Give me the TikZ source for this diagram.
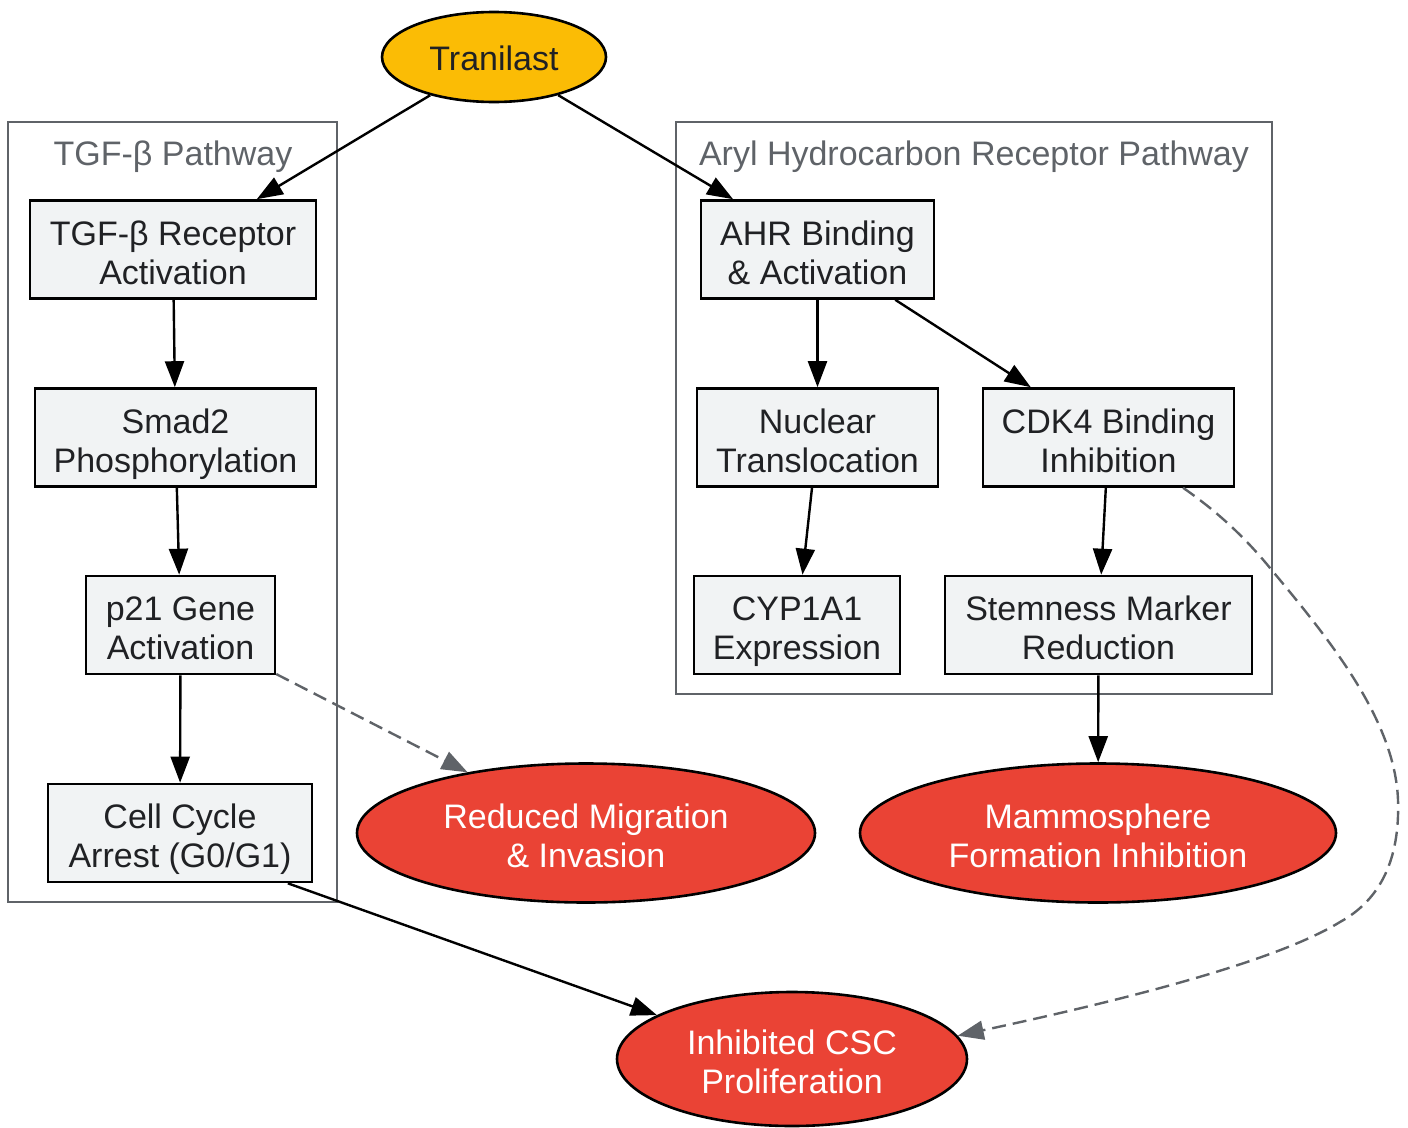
\documentclass[tikz,border=0pt]{standalone}
\usepackage{fontspec}
\setmainfont{Liberation Sans}
\usetikzlibrary{arrows.meta,shapes.geometric}
\definecolor{boxfill}{HTML}{F1F3F4}
\definecolor{txt}{HTML}{202124}
\definecolor{grayc}{HTML}{5F6368}
\definecolor{redc}{HTML}{EA4335}
\definecolor{yel}{HTML}{FBBC05}
\newcommand{\twoln}[2]{\smash{#1}\rule{0pt}{30pt}\\\smash{#2}}
\tikzset{
  box/.style={draw=black, line width=2.6pt, fill=boxfill, text=txt, align=center, inner sep=0pt, minimum height=98pt},
  oval/.style={ellipse, draw=black, line width=2.6pt, fill=redc, text=white, align=center, inner sep=0pt},
  cluster/.style={draw=grayc, line width=2.2pt, inner sep=0pt},
  clabel/.style={text=grayc, anchor=base, inner sep=0pt},
  edge/.style={line width=2.4pt, draw=black, -{Triangle[length=26pt,width=19pt]}},
  dashedge/.style={line width=2.4pt, draw=grayc, dash pattern=on 14pt off 7pt, -{Triangle[length=26pt,width=19pt]}}
}
\begin{document}
\begin{tikzpicture}[x=1pt,y=-1pt, font=\fontsize{34}{39}\selectfont]
\useasboundingbox (0,0) rectangle (1408,1127);
% clusters
\node[cluster, minimum width=329pt, minimum height=780pt] (tgfc) at (172.5,512) {};
\node[cluster, minimum width=596pt, minimum height=572pt] (ahrc) at (974,408) {};
\node[clabel] (tgfl) at (173,165) {TGF-β Pathway};
\node[clabel] (ahrl) at (974,165) {Aryl Hydrocarbon Receptor Pathway};
% nodes
\node[ellipse, draw=black, line width=2.6pt, fill=yel, text=txt, inner sep=0pt, minimum width=224pt, minimum height=90pt] (tran) at (494,57) {\smash{Tranilast}\rule{0pt}{27pt}};
\node[box, minimum width=286pt] (rec) at (173,249.5) {\twoln{TGF-β Receptor}{Activation}};
\node[box, minimum width=281pt] (smad) at (175.5,437.5) {\twoln{Smad2}{Phosphorylation}};
\node[box, minimum width=189pt] (p21) at (180.5,625) {\twoln{p21 Gene}{Activation}};
\node[box, minimum width=264pt] (cell) at (180,833) {\twoln{Cell Cycle}{Arrest (G0/G1)}};
\node[box, minimum width=233pt] (ahr) at (817.5,249.5) {\twoln{AHR Binding}{\& Activation}};
\node[box, minimum width=241pt] (nuc) at (817.5,437.5) {\twoln{Nuclear}{Translocation}};
\node[box, minimum width=251pt] (cdk) at (1108.5,437.5) {\twoln{CDK4 Binding}{Inhibition}};
\node[box, minimum width=206pt] (cyp) at (797,625) {\twoln{CYP1A1}{Expression}};
\node[box, minimum width=307pt] (stem) at (1098.5,625) {\twoln{Stemness Marker}{Reduction}};
\node[oval, minimum width=458pt, minimum height=139pt] (mig) at (586,833) {\twoln{Reduced Migration}{\& Invasion}};
\node[oval, minimum width=476pt, minimum height=139pt] (mam) at (1098,833) {\twoln{Mammosphere}{Formation Inhibition}};
\node[oval, minimum width=350pt, minimum height=134pt] (inh) at (792,1059) {\twoln{Inhibited CSC}{Proliferation}};
% edges
\draw[edge] (tran) -- (rec);
\draw[edge] (tran) -- (ahr);
\draw[edge] (rec) -- (smad);
\draw[edge] (smad) -- (p21);
\draw[edge] (p21) -- (cell);
\draw[dashedge] (p21) -- (mig);
\draw[edge] (cell.-25.5) -- (inh.162.4);
\draw[edge] (ahr) -- (nuc);
\draw[edge] (ahr) -- (cdk);
\draw[edge] (nuc) -- (cyp);
\draw[edge] (cdk) -- (stem);
\draw[edge] (stem) -- (mam);
\draw[dashedge] (cdk.-34.7) .. controls (1215,510) and (1243,535) .. (1270,568)
  .. controls (1330,640) and (1395,720) .. (1398,800)
  .. controls (1400,860) and (1380,900) .. (1340,922)
  .. controls (1270,965) and (1100,1005) .. (inh.8.2);
\end{tikzpicture}
\end{document}
